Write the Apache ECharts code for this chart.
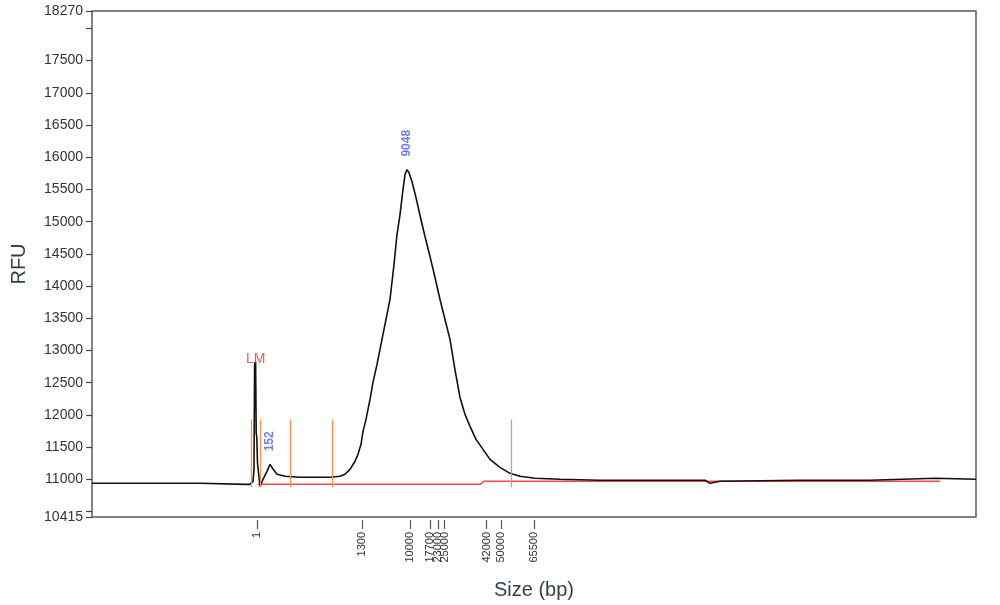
<!DOCTYPE html>
<html>
<head>
<meta charset="utf-8">
<script src="https://cdn.jsdelivr.net/npm/echarts@6/dist/echarts.min.js"></script>
<style>html,body{margin:0;padding:0;background:#fff}#c{width:1000px;height:605px}</style>
</head>
<body>
<div id="c"></div>
<script>
// Migration position (arbitrary units) and RFU of the electropherogram trace
const traceX = [0, 28, 108, 153, 158, 161, 162, 162.6, 163.6, 164.2, 164.8, 165.5, 168, 171, 175, 178, 181, 185, 193, 208, 228, 238, 248, 253, 258, 263, 266, 269, 271, 274, 278, 281, 285, 289, 293, 298, 302, 305, 308, 311, 313, 315, 317, 320, 324, 328, 333, 338, 343, 348, 353, 358, 363, 368, 373, 378, 384, 391, 398, 408, 418, 428, 443, 468, 508, 558, 613, 618, 628, 708, 778, 843, 884];
const traceY = [10938, 10938, 10938, 10922, 10922, 10969, 11155, 12790, 12830, 11720, 11650, 11250, 10891, 11000, 11124, 11233, 11160, 11078, 11047, 11031, 11031, 11031, 11047, 11078, 11155, 11280, 11388, 11543, 11745, 11930, 12240, 12504, 12784, 13094, 13404, 13792, 14335, 14800, 15110, 15498, 15730, 15808, 15760, 15620, 15374, 15095, 14770, 14460, 14133, 13792, 13482, 13172, 12700, 12270, 12008, 11822, 11620, 11465, 11310, 11186, 11093, 11047, 11016, 11000, 10985, 10985, 10985, 10938, 10969, 10985, 10985, 11016, 11000];

// Ladder sizes (bp) and their migration positions
const ladderLabels = ['1', '1300', '10000', '17700', '23000', '25000', '42000', '50000', '65500'];
const ladderPos = [165, 270, 318, 338, 346, 352.5, 394.5, 409, 442];

// Y axis ticks / labels
const yTickValues = [10415, 10500, 11000, 11500, 12000, 12500, 13000, 13500, 14000, 14500, 15000, 15500, 16000, 16500, 17000, 17500, 18000, 18270];
const yLabelValues = [10415, 11000, 11500, 12000, 12500, 13000, 13500, 14000, 14500, 15000, 15500, 16000, 16500, 17000, 17500, 18270];

// Baseline (red) and peak boundary markers (orange)
const baseX = [166, 388, 392, 848];
const baseY = [10922, 10922, 10969, 10969];
const boundaryX = [159, 168.7, 198.7, 240, 419.7];
const boundaryLow = 10876;
const boundaryHigh = 11930;

// Peak annotations
const peakNames = ['LM', '152', '9048'];
const peakX = [163.6, 178, 315];
const peakY = [12830, 11233, 15808];

const chart = echarts.init(document.getElementById('c'), null, {renderer: 'canvas'});

const trace = traceX.map((x, i) => [x, traceY[i]]);
const base = baseX.map((x, i) => [x, baseY[i]]);
const boundaryLines = boundaryX.map(x => [{coord: [x, boundaryLow]}, {coord: [x, boundaryHigh]}]);

const peakData = peakNames.map((n, i) => {
  const isLM = n === 'LM';
  return {
    value: [peakX[i], peakY[i]],
    name: n,
    label: isLM ? {
      show: true, position: 'top', distance: -5, formatter: n,
      color: '#ee2d3a', fontSize: 14, fontFamily: 'Liberation Sans'
    } : {
      show: true, position: 'top', distance: 13, rotate: 90, align: 'left', verticalAlign: 'middle',
      formatter: n, color: '#4a5af0', fontSize: 12, fontWeight: 'bold', fontFamily: 'Liberation Sans'
    }
  };
});

chart.setOption({
  animation: false,
  backgroundColor: '#fff',
  grid: {
    left: 92, right: 24, top: 11, bottom: 88,
    containLabel: false, outerBoundsMode: 'none',
    show: true, borderColor: '#5a5a5a', borderWidth: 1.5, backgroundColor: 'transparent'
  },
  xAxis: {
    type: 'value', min: 0, max: 884, offset: 3,
    name: 'Size (bp)', nameLocation: 'middle', nameGap: 60,
    nameTextStyle: {fontSize: 20, color: '#34404e', fontFamily: 'Liberation Sans'},
    axisLine: {show: false},
    splitLine: {show: false},
    axisTick: {show: true, customValues: ladderPos, length: 9, lineStyle: {color: '#555', width: 1.2}},
    axisLabel: {
      show: true, customValues: ladderPos, rotate: 90, margin: 12,
      fontSize: 11, color: '#333', fontFamily: 'Liberation Sans',
      formatter: v => {
        let best = 0;
        ladderPos.forEach((p, i) => { if (Math.abs(p - v) < Math.abs(ladderPos[best] - v)) best = i; });
        return ladderLabels[best];
      }
    }
  },
  yAxis: {
    type: 'value', min: 10415, max: 18270,
    name: 'RFU', nameLocation: 'middle', nameGap: 63, nameRotate: 90,
    nameTextStyle: {fontSize: 20, color: '#34404e', fontFamily: 'Liberation Sans'},
    axisLine: {show: false},
    splitLine: {show: false},
    axisTick: {show: true, customValues: yTickValues, length: 6, lineStyle: {color: '#444', width: 1.2}},
    axisLabel: {
      show: true, customValues: yLabelValues, margin: 9,
      fontSize: 14, color: '#333', fontFamily: 'Liberation Sans',
      formatter: v => String(v)
    }
  },
  series: [
    {
      name: 'baseline', type: 'line', data: base, showSymbol: false, z: 2,
      lineStyle: {color: '#f04a4a', width: 1.5},
      markLine: {
        silent: true, symbol: ['none', 'none'], label: {show: false},
        lineStyle: {color: '#f5934f', width: 1.3, type: 'solid'},
        data: boundaryLines
      }
    },
    {
      name: 'trace', type: 'line', data: trace, showSymbol: false, z: 3,
      lineStyle: {color: '#111', width: 1.6}
    },
    {
      name: 'peaks', type: 'scatter', data: peakData, symbolSize: 0, z: 4
    }
  ]
});
</script>
</body>
</html>
